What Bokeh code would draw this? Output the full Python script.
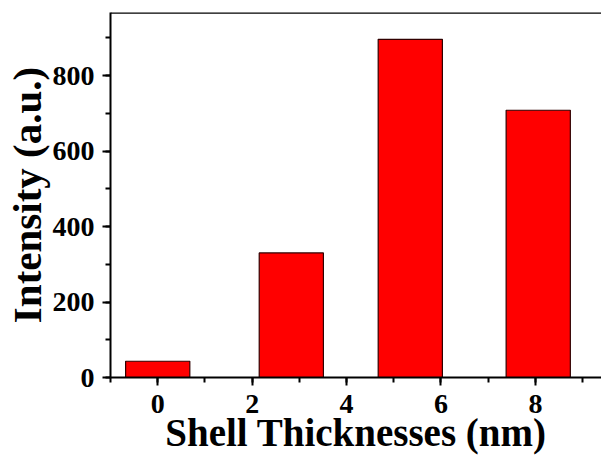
from bokeh.plotting import figure
from bokeh.models import Range1d, SingleIntervalTicker, Span
from bokeh.embed import file_html
from bokeh.resources import INLINE

# Data
thickness = [0, 2.83, 5.35, 8.06]        # bar centres (nm)
intensity = [43, 330, 896, 708]          # intensity (a.u.)
x_ticks = [0, 2, 4, 6, 8]
y_ticks = [0, 200, 400, 600, 800]

FONT = "Liberation Serif"
Y_MAX = 967

p = figure(width=601, height=456,
           x_range=Range1d(-1.0, 9.4), y_range=Range1d(0, Y_MAX),
           output_backend="svg", toolbar_location=None,
           min_border_left=110, min_border_right=0,
           min_border_top=12, min_border_bottom=78)
p.grid.visible = False
p.outline_line_color = None
p.background_fill_color = "white"
p.border_fill_color = "white"

p.vbar(x=thickness, top=intensity, bottom=0, width=1.36,
       fill_color="#ff0000", line_color="#300000", line_width=1.2)

p.xaxis.ticker = SingleIntervalTicker(interval=2, num_minor_ticks=2)
p.yaxis.ticker = SingleIntervalTicker(interval=200, num_minor_ticks=2)
p.xaxis.axis_label = "Shell Thicknesses (nm)"
p.yaxis.axis_label = "Intensity (a.u.)"

for ax in (p.xaxis[0], p.yaxis[0]):
    ax.axis_line_width = 2
    ax.axis_line_color = "black"
    ax.major_tick_line_width = 2
    ax.minor_tick_line_width = 2
    ax.major_tick_in = 0
    ax.minor_tick_in = 0
    ax.major_tick_out = 8
    ax.minor_tick_out = 5
    ax.major_label_text_font = FONT
    ax.major_label_text_font_style = "bold"
    ax.major_label_text_font_size = "28px"
    ax.major_label_text_color = "black"
    ax.axis_label_text_font = FONT
    ax.axis_label_text_font_style = "bold"
    ax.axis_label_text_color = "black"

p.xaxis.axis_label_text_font_size = "39px"
p.yaxis.axis_label_text_font_size = "41px"
p.xaxis.major_label_standoff = 9
p.xaxis.axis_label_standoff = -5
p.yaxis.major_label_standoff = 8
p.yaxis.axis_label_standoff = 0

# top frame line
p.add_layout(Span(location=Y_MAX, dimension="width", line_color="black",
                  line_width=2.5, level="overlay"))

open("out.html", "w").write(file_html(p, INLINE))
